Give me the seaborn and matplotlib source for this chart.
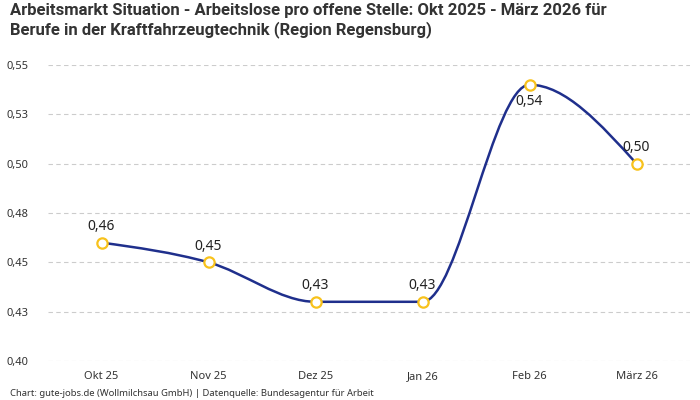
import numpy as np
import pandas as pd
import matplotlib
matplotlib.use("Agg")
import matplotlib.pyplot as plt
from matplotlib.path import Path
from matplotlib.patches import PathPatch
import seaborn as sns

# data
months = ["Okt 25", "Nov 25", "Dez 25", "Jan 26", "Feb 26", "März 26"]
ratio = [0.46, 0.45, 0.43, 0.43, 0.54, 0.50]
label_below = [False, False, False, False, True, False]

title = ("Arbeitsmarkt Situation - Arbeitslose pro offene Stelle: Okt 2025 - März 2026 für\n"
         "Berufe in der Kraftfahrzeugtechnik (Region Regensburg)")
source = "Chart: gute-jobs.de (Wollmilchsau GmbH) | Datenquelle: Bundesagentur für Arbeit"
yticks = [0.40, 0.425, 0.45, 0.475, 0.50, 0.525, 0.55]
ytick_labels = ["0,40", "0,43", "0,45", "0,48", "0,50", "0,53", "0,55"]

df = pd.DataFrame({"month": months, "ratio": ratio})
df["pos"] = np.arange(len(df))

sns.set_theme(style="white")
plt.rcParams["font.family"] = ["Noto Sans", "DejaVu Sans"]

line_color = "#1f2f8c"
marker_color = "#f8c21c"
text_color = "#333333"


def monotone_tangents(x, y):
    # monotone cubic tangents (same idea as d3 curveMonotoneX)
    x = np.asarray(x, float)
    y = np.asarray(y, float)
    h = np.diff(x)
    s = np.diff(y) / h
    m = np.zeros_like(y)
    for i in range(1, len(y) - 1):
        s0, s1 = s[i - 1], s[i]
        p = (s0 * h[i] + s1 * h[i - 1]) / (h[i - 1] + h[i])
        m[i] = (np.sign(s0) + np.sign(s1)) * min(abs(s0), abs(s1), 0.5 * abs(p))
    m[0] = (3 * s[0] - m[1]) / 2
    m[-1] = (3 * s[-1] - m[-2]) / 2
    return m


def smooth_path(x, y):
    m = monotone_tangents(x, y)
    verts = [(x[0], y[0])]
    codes = [Path.MOVETO]
    for i in range(len(x) - 1):
        h = x[i + 1] - x[i]
        verts += [(x[i] + h / 3, y[i] + m[i] * h / 3),
                  (x[i + 1] - h / 3, y[i + 1] - m[i + 1] * h / 3),
                  (x[i + 1], y[i + 1])]
        codes += [Path.CURVE4] * 3
    return Path(verts, codes)


fig = plt.figure(figsize=(7, 4), dpi=100)
ax = fig.add_axes([48 / 700, 1 - 361 / 400, (690 - 48) / 700, (361 - 65) / 400])

ax.add_patch(PathPatch(smooth_path(df["pos"].values, df["ratio"].values),
                       facecolor="none", edgecolor=line_color, lw=1.8, zorder=3))
sns.scatterplot(data=df, x="pos", y="ratio", ax=ax, s=55, marker="o",
                facecolor="white", edgecolor=marker_color, linewidth=1.6, zorder=4)

for xi, yi, below in zip(df["pos"], df["ratio"], label_below):
    txt = f"{yi:.2f}".replace(".", ",")
    if below:
        ax.annotate(txt, (xi, yi), xytext=(0, -7), textcoords="offset points",
                    ha="center", va="top", fontsize=10, fontweight="medium",
                    color="#222222", zorder=5)
    else:
        ax.annotate(txt, (xi, yi), xytext=(0, 6), textcoords="offset points",
                    ha="center", va="bottom", fontsize=10, fontweight="medium",
                    color="#222222", zorder=5)

ax.set_xlim(-0.5, len(df) - 0.5)
ax.set_ylim(0.40, 0.55)
ax.set_xticks(df["pos"])
ax.set_xticklabels(months)
ax.set_yticks(yticks)
ax.set_yticklabels(ytick_labels)
ax.tick_params(axis="both", length=0, labelsize=8, colors=text_color)
ax.tick_params(axis="y", pad=14)
ax.tick_params(axis="x", pad=7)
ax.grid(axis="y", color="#cccccc", linestyle=(0, (4, 3)), linewidth=0.8)
ax.set_axisbelow(True)
ax.set_xlabel("")
ax.set_ylabel("")
for sp in ax.spines.values():
    sp.set_visible(False)

fig.text(10 / 700, 1 - 3 / 400, title, ha="left", va="top", fontsize=12,
         fontweight="bold", color=text_color, linespacing=1.25,
         family=["Liberation Sans Narrow", "Roboto", "DejaVu Sans"])
fig.text(10 / 700, 1 - 393 / 400, source, ha="left", va="center",
         fontsize=6.8, color=text_color)

fig.savefig("out.png", dpi=100, facecolor="white")
